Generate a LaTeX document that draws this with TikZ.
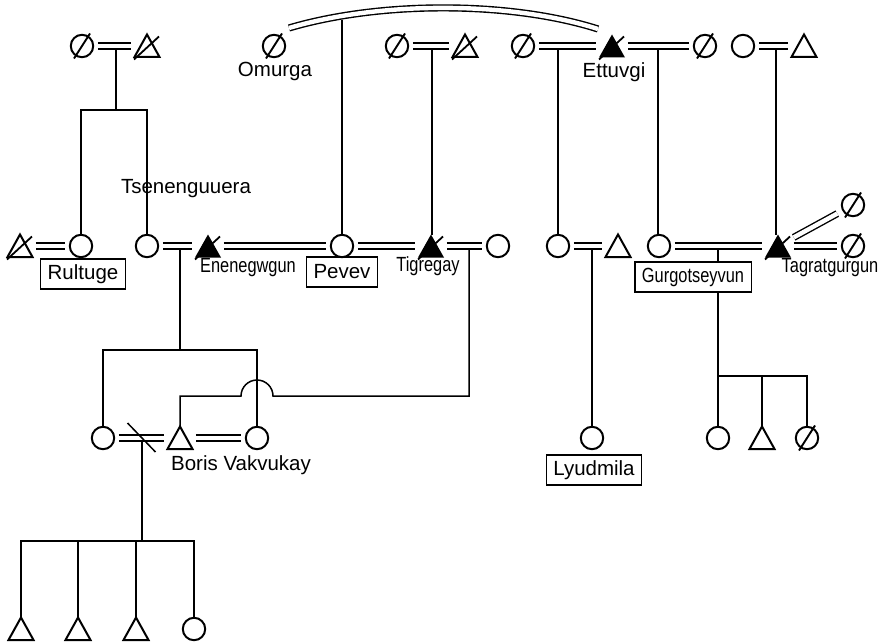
\documentclass[tikz,border=0pt]{standalone}
\usepackage{fontspec}
\setmainfont{Liberation Sans}
\newfontfamily\condfont[FakeStretch=0.8]{Liberation Sans}
\usetikzlibrary{calc}
\newcommand\pcen{(path picture bounding box.center)}
\begin{document}
\begin{tikzpicture}[x=1pt,y=-1pt,line width=1.5pt,
  lbl/.style={font=\fontsize{20.5}{22}\selectfont, inner sep=1pt},
  clbl/.style={font=\condfont\fontsize{20.5}{22}\selectfont, inner sep=1pt},
  namebox/.style={draw, line width=1.1pt, inner xsep=7pt, minimum height=30pt},
  sym/.style={rectangle, draw=none, inner sep=0pt, minimum width=30pt, minimum height=30pt},
  fem/.style={sym, path picture={\draw[line width=2pt] \pcen circle (11.2pt);}},
  femx/.style={sym, path picture={\draw[line width=2pt] \pcen circle (11.2pt);
      \draw[line width=1.9pt] \pcen ++(-8pt,-12.5pt) -- ++(16pt,25pt);}},
  mal/.style={sym, path picture={\draw[line width=2pt, line join=miter] \pcen ++(0pt,11.5pt) -- ++(12.5pt,-22.5pt) -- ++(-25pt,0pt) -- cycle;}},
  malx/.style={sym, path picture={\draw[line width=2pt, line join=miter] \pcen ++(0pt,11.5pt) -- ++(12.5pt,-22.5pt) -- ++(-25pt,0pt) -- cycle;
      \draw[line width=1.8pt] \pcen ++(-13pt,-13.5pt) -- ++(25pt,23pt);}},
  malxf/.style={sym, path picture={\fill \pcen ++(0pt,11.5pt) -- ++(13pt,-23pt) -- ++(-26pt,0pt) -- cycle;
      \draw[line width=1.8pt] \pcen ++(-13pt,-13.5pt) -- ++(25pt,23pt);}},
  dbl/.style={double, double distance=4.4pt, line width=1.4pt},
  tosym/.style={shorten >=11pt},
  both/.style={shorten <=11pt, shorten >=11pt}]
\fill[white] (0,0) rectangle (883,642);
\useasboundingbox (0,0) rectangle (883,642);

% ---------- row 1 ----------
\node[femx] (a1) at (82,46) {};
\node[malx] (a2) at (147,46) {};
\node[femx] (om) at (274,46) {};
\node[lbl] (omL) at (275,71) {Omurga};
\node[femx] (b1) at (397,46) {};
\node[malx] (b2) at (465,46) {};
\node[femx] (c1) at (523,46) {};
\node[malxf] (et) at (612,46) {};
\node[lbl] (etL) at (614,72) {Ettuvgi};
\node[femx] (c3) at (705,46) {};
\node[fem] (d1) at (743,46) {};
\node[mal] (d2) at (804,46) {};

% ---------- row 2 ----------
\node[malx] (r1) at (20,246) {};
\node[fem] (r2) at (81,246) {};
\node[lbl, namebox] (rB) at (83,274) {Rultuge};
\node[fem] (r3) at (147,246) {};
\node[lbl] (r3L) at (186,189) {Tsenenguuera};
\node[malxf] (en) at (208,246) {};
\node[clbl] (enL) at (248,268) {Enenegwgun};
\node[fem] (pv) at (342,246) {};
\node[lbl, namebox] (pvB) at (342,272) {Pevev};
\node[malxf] (tg) at (431,246) {};
\node[clbl] (tgL) at (428,266) {Tigregay};
\node[fem] (tw) at (498,246) {};
\node[fem] (ly1) at (558,246) {};
\node[mal] (ly2) at (618,246) {};
\node[fem] (gm) at (659,246) {};
\node[clbl, namebox] (gB) at (693,277) {Gurgotseyvun};
\node[malxf] (ta) at (778,246) {};
\node[clbl] (taL) at (830,268) {Tagratgurgun};
\node[femx] (tw1) at (853,205) {};
\node[femx] (tw2) at (853,246) {};

% ---------- row 3 ----------
\node[fem] (bw1) at (103,438) {};
\node[mal] (bo) at (180,438) {};
\node[fem] (bw2) at (257,438) {};
\node[lbl] (boL) at (241,465) {Boris Vakvukay};
\node[fem] (ly3) at (592,438) {};
\node[lbl, namebox] (lyB) at (594,470) {Lyudmila};
\node[fem] (g1) at (718,438) {};
\node[mal] (g2) at (762,438) {};
\node[femx] (g3) at (807,438) {};

% ---------- row 4 ----------
\node[mal] (k1) at (21,629) {};
\node[mal] (k2) at (78,629) {};
\node[mal] (k3) at (136,629) {};
\node[fem] (k4) at (194,629) {};

% ---------- marriages ----------
\draw[dbl] (a1) -- (a2);
\draw[dbl] (b1) -- (b2);
\draw[dbl] (c1) -- (et);
\draw[dbl] (et) -- (c3);
\draw[dbl] (d1) -- (d2);
\draw[dbl] ([shift={(15,-18)}]om.center) .. controls (380,1) and (510,1) .. ([shift={(-14,-17)}]et.center);
\draw[dbl] (r1) -- (r2);
\draw[dbl] (r3) -- (en);
\draw[dbl] (en) -- (pv);
\draw[dbl] (pv) -- (tg);
\draw[dbl] (tg) -- (tw);
\draw[dbl] (ly1) -- (ly2);
\draw[dbl] (gm) -- (ta);
\draw[dbl] (ta) -- (tw1);
\draw[dbl] (ta) -- (tw2);
\draw[dbl] (bw1) -- (bo);
\draw[dbl] (bo) -- (bw2);
\draw ($(bw1.center)!0.5!(bo.center)+(-14,-15)$) -- ++(28,29);

% ---------- descent ----------
\coordinate (am) at (116,48.5);
\coordinate (abar) at (116,110);
\draw (am) -- (abar);
\draw[both] (r2.center) -- (r2.center |- abar) -- (r3.center |- abar) -- (r3.center);

\coordinate (pvtop) at (342,20);
\draw[tosym] (pvtop) -- (pv.center);

\coordinate (bm) at (432,48.5);
\draw[shorten >=11pt] (bm) -- (bm |- tg.center);

\coordinate (cm1) at (558,48.5);
\draw[tosym] (cm1) -- (ly1.center);
\coordinate (cm2) at (658,48.5);
\draw[shorten >=11pt] (cm2) -- (cm2 |- gm.center);
\coordinate (dm) at (776,48.5);
\draw[shorten >=11pt] (dm) -- (dm |- ta.center);

\coordinate (enm) at (180,248.5);
\coordinate (bbar) at (180,350);
\draw (enm) -- (bbar);
\draw[both] (bw1.center) -- (bw1.center |- bbar) -- (bw2.center |- bbar) -- (bw2.center);

\coordinate (tgm) at (469,248.5);
\coordinate (tgc) at (469,396);
\coordinate (hopR) at (273,396);
\draw[tosym] (tgm) -- (tgc) -- (hopR) arc[start angle=0, end angle=180, radius=16pt] -- (bo.center |- hopR) -- (bo.center);

\coordinate (lym) at (592,248.5);
\draw[tosym] (lym) -- (ly3.center);

\coordinate (gmm) at (718,248.5);
\coordinate (gbar) at (718,376);
\draw (gmm) -- (gmm |- gB.north);
\draw (gmm |- gB.south) -- (gbar);
\draw[both] (g1.center) -- (g1.center |- gbar) -- (g3.center |- gbar) -- (g3.center);
\draw[tosym] (g2.center |- gbar) -- (g2.center);

\coordinate (bwm) at (142,440.5);
\coordinate (kbar) at (142,541);
\draw (bwm) -- (kbar);
\draw[both] (k1.center) -- (k1.center |- kbar) -- (k4.center |- kbar) -- (k4.center);
\draw[tosym] (k2.center |- kbar) -- (k2.center);
\draw[tosym] (k3.center |- kbar) -- (k3.center);
\end{tikzpicture}
\end{document}
